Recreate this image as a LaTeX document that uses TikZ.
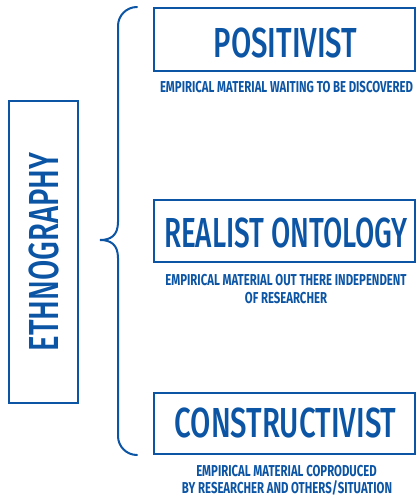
\documentclass[tikz,border=0pt]{standalone}
\usepackage{fontspec}
\setmainfont{Fira Sans}[FakeStretch=0.70,UprightFont=*-Medium]
\newfontfamily\subfont{Fira Sans}[FakeStretch=0.72,UprightFont=*-Bold]
\definecolor{ethblue}{HTML}{0C55A5}
\begin{document}
\begin{tikzpicture}[x=1pt,y=-1pt,
  frame/.style={draw=ethblue,line width=2pt,inner sep=0pt},
  title/.style={text=ethblue,inner sep=0pt,anchor=base,font=\fontsize{42}{42}\selectfont},
  note/.style={text=ethblue,inner sep=0pt,anchor=base,font=\subfont\fontsize{15.8}{18}\selectfont}]
\useasboundingbox (0,0) rectangle (416,497);

% category boxes
\draw[frame] (154,8) rectangle (415,71);
\draw[frame] (154,200) rectangle (415,262);
\draw[frame] (154,393) rectangle (415,454);
\draw[frame] (9,101) rectangle (78,403);

% titles
\node[title] (pos) at (285.5,58) {POSITIVIST};
\node[title] (real) at (286,247) {\scalebox{0.95}[1]{REALIST ONTOLOGY}};
\node[title] (cons) at (285.5,437) {CONSTRUCTIVIST};
\node[title,rotate=90] (eth) at (58,252) {ETHNOGRAPHY};

% descriptions
\node[note] (posnote) at (286.5,93) {EMPIRICAL MATERIAL WAITING TO BE DISCOVERED};
\node[note] (realnote1) at (286,285) {EMPIRICAL MATERIAL OUT THERE INDEPENDENT};
\node[note] (realnote2) at (286,303) {OF RESEARCHER};
\node[note] (consnote1) at (286.5,476.5) {EMPIRICAL MATERIAL COPRODUCED};
\node[note] (consnote2) at (287,493.5) {BY RESEARCHER AND OTHERS/SITUATION};

% curly brace grouping the three positions
\coordinate (btop) at (137,7);
\coordinate (btip) at (100,240);
\coordinate (bbot) at (137,455);
\draw[ethblue,line width=2pt,line cap=round]
  (btop) arc[start angle=270,end angle=180,radius=19]
  -- (118,222) .. controls (118,236) and (110,240) .. (btip)
  .. controls (110,240) and (118,244) .. (118,258)
  -- (118,436) arc[start angle=180,end angle=90,radius=19];
\end{tikzpicture}
\end{document}
